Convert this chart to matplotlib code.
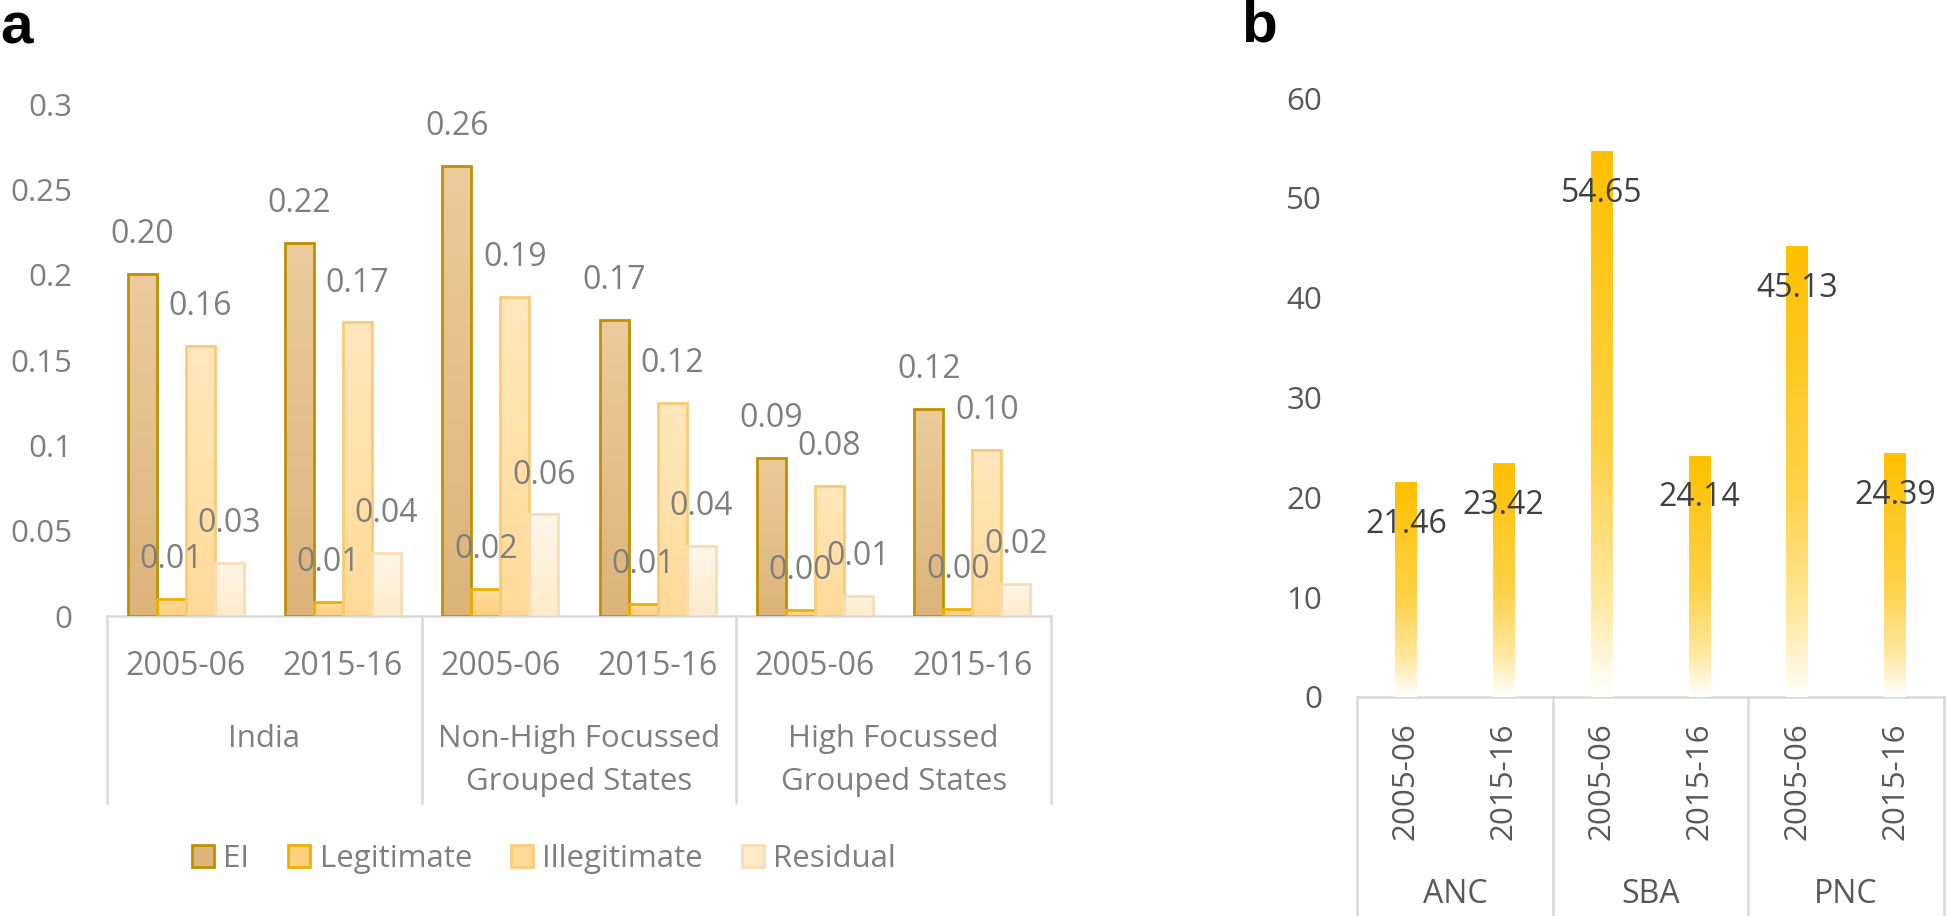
import numpy as np
import matplotlib
matplotlib.use("Agg")
import matplotlib.pyplot as plt
from matplotlib.colors import LinearSegmentedColormap
from matplotlib.patches import Patch

# ---------------- data ----------------
years = ["2005-06", "2015-16"]
groups_a = ["India", "Non-High Focussed\nGrouped States", "High Focussed\nGrouped States"]
series_a = ["EI", "Legitimate", "Illegitimate", "Residual"]
ei = [0.2004, 0.2186, 0.2635, 0.1734, 0.0924, 0.1211]
legit = [0.0102, 0.0080, 0.0158, 0.0070, 0.0035, 0.0039]
illegit = [0.1580, 0.1720, 0.1868, 0.1246, 0.0764, 0.0973]
resid = [0.0308, 0.0372, 0.0595, 0.0412, 0.0119, 0.0187]
yticks_a = [0, 0.05, 0.1, 0.15, 0.2, 0.25, 0.3]
yticklabels_a = ["0", "0.05", "0.1", "0.15", "0.2", "0.25", "0.3"]

groups_b = ["ANC", "SBA", "PNC"]
values_b = [21.46, 23.42, 54.65, 24.14, 45.13, 24.39]
yticks_b = [0, 10, 20, 30, 40, 50, 60]

# ---------------- style ----------------
plt.rcParams["font.family"] = ["Open Sans", "DejaVu Sans"]
W, H = 1949, 916
fig = plt.figure(figsize=(W / 100, H / 100), dpi=100)

GRID = "#D9D9D9"
TXT_A = "#7F7F7F"
TXT_B = "#595959"

styles_a = [
    dict(top="#EBCB9C", bot="#DDB47A", edge="#BF9000"),
    dict(top="#FFDCA0", bot="#FFCF7C", edge="#EDB000"),
    dict(top="#FFE8BC", bot="#FFDA96", edge="#F8CC76"),
    dict(top="#FFF6E8", bot="#FFEBCB", edge="#FADDB4"),
]


def grad_bar(ax, x, h, w, cmap, edge=None, lw=0.0):
    img = np.linspace(0, 1, 256).reshape(-1, 1)
    ax.imshow(img, cmap=cmap, extent=(x - w / 2, x + w / 2, 0, h), aspect="auto",
              origin="upper", zorder=2, interpolation="bilinear")
    if edge is not None:
        ax.bar(x, h, w, facecolor="none", edgecolor=edge, linewidth=lw, zorder=3)


# ---------------- panel a ----------------
axa = fig.add_axes([107 / W, (H - 616) / H, 944 / W, 512 / H])
n = len(ei)
xs = np.arange(n)
bw = 0.184
offs = (np.arange(4) - 1.5) * bw
all_series = [ei, legit, illegit, resid]
for s, (vals, st) in enumerate(zip(all_series, styles_a)):
    cmap = LinearSegmentedColormap.from_list("g%d" % s, [st["top"], st["bot"]])
    for i, v in enumerate(vals):
        x = xs[i] + offs[s]
        grad_bar(axa, x, v, bw, cmap, edge=st["edge"], lw=2.0)
        axa.annotate("%.2f" % v, (x, v), xytext=(0, 28.4), textcoords="offset points",
                     ha="center", va="center", fontsize=23, color=TXT_A, zorder=5)

axa.set_xlim(-0.5, n - 0.5)
axa.set_ylim(0, 0.3)
axa.set_xticks([])
axa.set_yticks(yticks_a)
axa.set_yticklabels(yticklabels_a)
axa.tick_params(axis="y", length=0, pad=25, labelsize=22.5, labelcolor=TXT_A)
for sp in ["top", "right", "left"]:
    axa.spines[sp].set_visible(False)
axa.spines["bottom"].set_color(GRID)
axa.spines["bottom"].set_linewidth(1.8)
axa.spines["bottom"].set_zorder(1)

tr = axa.get_xaxis_transform()
for i in range(n):
    axa.text(xs[i], -0.1152, years[i % 2], transform=tr, ha="center", va="baseline",
             fontsize=23, color=TXT_A)
for g, name in enumerate(groups_a):
    cx = 2 * g + 0.5
    for k, ln in enumerate(name.split("\n")):
        axa.text(cx, -0.2559 - k * 0.083, ln, transform=tr, ha="center", va="baseline",
                 fontsize=22.5, color=TXT_A)
for b in np.arange(0, n + 1, 2) - 0.5:
    axa.plot([b, b], [0, -0.365], transform=tr, color=GRID, lw=1.8, clip_on=False)

handles = [Patch(facecolor=st["bot"], edgecolor=st["edge"], linewidth=2.0) for st in styles_a]
leg = axa.legend(handles, series_a, loc="center", bbox_to_anchor=(544 / W, 57 / H),
                 bbox_transform=fig.transFigure, ncol=4, frameon=False,
                 prop={"size": 22.5}, handlelength=0.7, handleheight=0.7,
                 handletextpad=0.3, columnspacing=1.25, labelcolor=TXT_A)

# ---------------- panel b ----------------
axb = fig.add_axes([1357 / W, (H - 697) / H, 587 / W, 599 / H])
cmap_b = LinearSegmentedColormap.from_list(
    "gb", [(0.0, "#FFC000"), (0.55, "#FFD24A"), (0.82, "#FFE8A0"), (1.0, "#FFFFFF")])
nb = len(values_b)
xb = np.arange(nb)
bwb = 0.22
for i, v in enumerate(values_b):
    grad_bar(axb, xb[i], v, bwb, cmap_b)
    axb.annotate("%.2f" % v, (xb[i], v), xytext=(0, -30.2), textcoords="offset points",
                 ha="center", va="center", fontsize=23, color="#404040", zorder=5)
axb.set_xlim(-0.5, nb - 0.5)
axb.set_ylim(0, 60)
axb.set_xticks([])
axb.set_yticks(yticks_b)
axb.tick_params(axis="y", length=0, pad=25, labelsize=22.5, labelcolor=TXT_B)
for sp in ["top", "right", "left"]:
    axb.spines[sp].set_visible(False)
axb.spines["bottom"].set_color(GRID)
axb.spines["bottom"].set_linewidth(1.8)
axb.spines["bottom"].set_zorder(1)
trb = axb.get_xaxis_transform()
for i in range(nb):
    axb.text(xb[i], -0.1402, years[i % 2], transform=trb, ha="center", va="center",
             rotation=90, fontsize=22.5, color=TXT_B)
for g, name in enumerate(groups_b):
    axb.text(2 * g + 0.5, -0.344, name, transform=trb, ha="center", va="baseline",
             fontsize=23, color=TXT_B)
for b in np.arange(0, nb + 1, 2) - 0.5:
    axb.plot([b, b], [0, -0.6], transform=trb, color=GRID, lw=1.8, clip_on=False)

# panel letters
fig.text(0.0, 1 - 44 / H, "a", fontsize=42, fontweight="bold", family="Liberation Sans",
         ha="left", va="baseline")
fig.text(1241 / W, 1 - 41 / H, "b", fontsize=42, fontweight="bold", family="Liberation Sans",
         ha="left", va="baseline")

fig.savefig("out.png", dpi=100)
